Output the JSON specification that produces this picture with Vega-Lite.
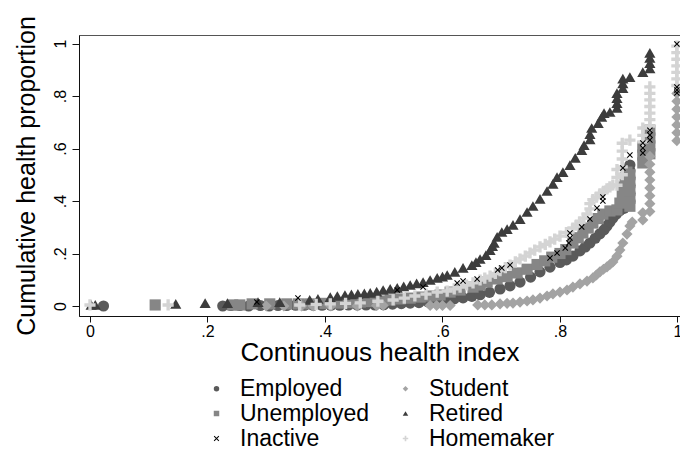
{
  "$schema": "https://vega.github.io/schema/vega-lite/v6.json",
  "width": 601,
  "height": 281,
  "autosize": "none",
  "padding": {"left": 79, "top": 35, "right": 0, "bottom": 143},
  "background": "white",
  "config": {
    "font": "Liberation Sans",
    "view": {"stroke": "#555555", "strokeWidth": 1},
    "axis": {
      "grid": false,
      "domainColor": "#111111",
      "tickColor": "#111111",
      "labelColor": "#000000",
      "titleColor": "#000000",
      "labelFont": "Liberation Sans",
      "titleFont": "Liberation Sans",
      "titleFontWeight": "normal",
      "labelFontSize": 16
    }
  },
  "datasets": {
    "pts": [
      {"g":"Employed","x":0.023,"y":0},{"g":"Employed","x":0.226,"y":0},{"g":"Employed","x":0.24,"y":0.002},{"g":"Employed","x":0.255,"y":0.002},{"g":"Employed","x":0.27,"y":0},{"g":"Employed","x":0.29,"y":0.002},{"g":"Employed","x":0.305,"y":0},{"g":"Employed","x":0.32,"y":0.002},{"g":"Employed","x":0.335,"y":0.002},{"g":"Employed","x":0.35,"y":0.003},{"g":"Employed","x":0.365,"y":0.003},{"g":"Employed","x":0.38,"y":0.003},{"g":"Employed","x":0.395,"y":0.003},{"g":"Employed","x":0.41,"y":0.003},{"g":"Employed","x":0.425,"y":0.003},{"g":"Employed","x":0.44,"y":0.004},{"g":"Employed","x":0.455,"y":0.004},{"g":"Employed","x":0.47,"y":0.004},{"g":"Employed","x":0.485,"y":0.004},{"g":"Employed","x":0.5,"y":0.005},{"g":"Employed","x":0.515,"y":0.007},{"g":"Employed","x":0.53,"y":0.009},{"g":"Employed","x":0.545,"y":0.011},{"g":"Employed","x":0.56,"y":0.013},{"g":"Employed","x":0.575,"y":0.016},{"g":"Employed","x":0.59,"y":0.019},{"g":"Employed","x":0.605,"y":0.023},{"g":"Employed","x":0.62,"y":0.027},{"g":"Employed","x":0.635,"y":0.031},{"g":"Employed","x":0.65,"y":0.037},{"g":"Employed","x":0.664,"y":0.043},{"g":"Employed","x":0.68,"y":0.052},{"g":"Employed","x":0.698,"y":0.065},{"g":"Employed","x":0.715,"y":0.077},{"g":"Employed","x":0.732,"y":0.091},{"g":"Employed","x":0.75,"y":0.11},{"g":"Employed","x":0.766,"y":0.13},{"g":"Employed","x":0.783,"y":0.148},{"g":"Employed","x":0.8,"y":0.166},{"g":"Employed","x":0.811,"y":0.176},{"g":"Employed","x":0.822,"y":0.19},{"g":"Employed","x":0.834,"y":0.21},{"g":"Employed","x":0.843,"y":0.225},{"g":"Employed","x":0.851,"y":0.24},{"g":"Employed","x":0.86,"y":0.258},{"g":"Employed","x":0.868,"y":0.275},{"g":"Employed","x":0.875,"y":0.29},{"g":"Employed","x":0.88,"y":0.305},{"g":"Employed","x":0.885,"y":0.32},{"g":"Employed","x":0.89,"y":0.335},{"g":"Employed","x":0.896,"y":0.35},{"g":"Employed","x":0.902,"y":0.364},{"g":"Employed","x":0.909,"y":0.372},{"g":"Employed","x":0.919,"y":0.4},{"g":"Employed","x":0.919,"y":0.43},{"g":"Employed","x":0.919,"y":0.46},{"g":"Employed","x":0.919,"y":0.49},{"g":"Employed","x":0.919,"y":0.515},{"g":"Employed","x":0.919,"y":0.537},

      {"g":"Unemployed","x":0.111,"y":0.004},{"g":"Unemployed","x":0.243,"y":0.004},{"g":"Unemployed","x":0.255,"y":0.004},{"g":"Unemployed","x":0.276,"y":0.008},{"g":"Unemployed","x":0.306,"y":0.008},{"g":"Unemployed","x":0.335,"y":0.008},{"g":"Unemployed","x":0.355,"y":0.008},{"g":"Unemployed","x":0.374,"y":0.008},{"g":"Unemployed","x":0.4,"y":0.01},{"g":"Unemployed","x":0.426,"y":0.011},{"g":"Unemployed","x":0.445,"y":0.013},{"g":"Unemployed","x":0.46,"y":0.015},{"g":"Unemployed","x":0.477,"y":0.017},{"g":"Unemployed","x":0.494,"y":0.019},{"g":"Unemployed","x":0.511,"y":0.023},{"g":"Unemployed","x":0.528,"y":0.027},{"g":"Unemployed","x":0.545,"y":0.03},{"g":"Unemployed","x":0.562,"y":0.034},{"g":"Unemployed","x":0.579,"y":0.038},{"g":"Unemployed","x":0.596,"y":0.042},{"g":"Unemployed","x":0.613,"y":0.053},{"g":"Unemployed","x":0.63,"y":0.061},{"g":"Unemployed","x":0.652,"y":0.072},{"g":"Unemployed","x":0.664,"y":0.08},{"g":"Unemployed","x":0.676,"y":0.091},{"g":"Unemployed","x":0.693,"y":0.103},{"g":"Unemployed","x":0.71,"y":0.112},{"g":"Unemployed","x":0.727,"y":0.126},{"g":"Unemployed","x":0.744,"y":0.14},{"g":"Unemployed","x":0.761,"y":0.158},{"g":"Unemployed","x":0.774,"y":0.172},{"g":"Unemployed","x":0.786,"y":0.186},{"g":"Unemployed","x":0.8,"y":0.2},{"g":"Unemployed","x":0.81,"y":0.215},{"g":"Unemployed","x":0.822,"y":0.24},{"g":"Unemployed","x":0.831,"y":0.26},{"g":"Unemployed","x":0.839,"y":0.278},{"g":"Unemployed","x":0.848,"y":0.297},{"g":"Unemployed","x":0.856,"y":0.316},{"g":"Unemployed","x":0.865,"y":0.333},{"g":"Unemployed","x":0.873,"y":0.35},{"g":"Unemployed","x":0.885,"y":0.362},{"g":"Unemployed","x":0.897,"y":0.366},{"g":"Unemployed","x":0.902,"y":0.392},{"g":"Unemployed","x":0.906,"y":0.423},{"g":"Unemployed","x":0.907,"y":0.453},{"g":"Unemployed","x":0.911,"y":0.488},{"g":"Unemployed","x":0.914,"y":0.51},{"g":"Unemployed","x":0.919,"y":0.38},{"g":"Unemployed","x":0.919,"y":0.41},{"g":"Unemployed","x":0.919,"y":0.44},{"g":"Unemployed","x":0.919,"y":0.47},{"g":"Unemployed","x":0.919,"y":0.5},{"g":"Unemployed","x":0.941,"y":0.545},{"g":"Unemployed","x":0.941,"y":0.575},{"g":"Unemployed","x":0.941,"y":0.605},{"g":"Unemployed","x":0.953,"y":0.58},{"g":"Unemployed","x":0.953,"y":0.61},{"g":"Unemployed","x":0.953,"y":0.64},{"g":"Unemployed","x":0.953,"y":0.67},

      {"g":"Student","x":0.3,"y":0},{"g":"Student","x":0.33,"y":0},{"g":"Student","x":0.36,"y":0},{"g":"Student","x":0.38,"y":0},{"g":"Student","x":0.41,"y":0},{"g":"Student","x":0.455,"y":0},{"g":"Student","x":0.488,"y":0.002},{"g":"Student","x":0.499,"y":0.002},{"g":"Student","x":0.579,"y":0.002},{"g":"Student","x":0.59,"y":0.002},{"g":"Student","x":0.6,"y":0.002},{"g":"Student","x":0.613,"y":0.002},{"g":"Student","x":0.66,"y":0.004},{"g":"Student","x":0.672,"y":0.004},{"g":"Student","x":0.684,"y":0.004},{"g":"Student","x":0.698,"y":0.008},{"g":"Student","x":0.71,"y":0.01},{"g":"Student","x":0.72,"y":0.011},{"g":"Student","x":0.732,"y":0.015},{"g":"Student","x":0.744,"y":0.019},{"g":"Student","x":0.754,"y":0.023},{"g":"Student","x":0.766,"y":0.03},{"g":"Student","x":0.778,"y":0.038},{"g":"Student","x":0.788,"y":0.046},{"g":"Student","x":0.8,"y":0.053},{"g":"Student","x":0.812,"y":0.061},{"g":"Student","x":0.822,"y":0.072},{"g":"Student","x":0.834,"y":0.084},{"g":"Student","x":0.846,"y":0.095},{"g":"Student","x":0.856,"y":0.107},{"g":"Student","x":0.862,"y":0.118},{"g":"Student","x":0.868,"y":0.13},{"g":"Student","x":0.874,"y":0.14},{"g":"Student","x":0.88,"y":0.149},{"g":"Student","x":0.885,"y":0.158},{"g":"Student","x":0.89,"y":0.168},{"g":"Student","x":0.897,"y":0.19},{"g":"Student","x":0.902,"y":0.213},{"g":"Student","x":0.907,"y":0.24},{"g":"Student","x":0.914,"y":0.274},{"g":"Student","x":0.919,"y":0.305},{"g":"Student","x":0.923,"y":0.32},{"g":"Student","x":0.941,"y":0.328},{"g":"Student","x":0.941,"y":0.355},{"g":"Student","x":0.953,"y":0.36},{"g":"Student","x":0.953,"y":0.39},{"g":"Student","x":0.953,"y":0.42},{"g":"Student","x":0.953,"y":0.45},{"g":"Student","x":0.953,"y":0.48},{"g":"Student","x":0.953,"y":0.51},{"g":"Student","x":0.953,"y":0.54},{"g":"Student","x":0.953,"y":0.57},{"g":"Student","x":0.999,"y":0.63},{"g":"Student","x":0.999,"y":0.66},{"g":"Student","x":0.999,"y":0.69},{"g":"Student","x":0.999,"y":0.72},{"g":"Student","x":0.999,"y":0.75},{"g":"Student","x":0.999,"y":0.78},{"g":"Student","x":0.999,"y":0.81},

      {"g":"Retired","x":0.002,"y":0.004},{"g":"Retired","x":0.009,"y":0.004},{"g":"Retired","x":0.146,"y":0.008},{"g":"Retired","x":0.196,"y":0.011},{"g":"Retired","x":0.234,"y":0.011},{"g":"Retired","x":0.286,"y":0.015},{"g":"Retired","x":0.323,"y":0.015},{"g":"Retired","x":0.374,"y":0.023},{"g":"Retired","x":0.388,"y":0.027},{"g":"Retired","x":0.409,"y":0.034},{"g":"Retired","x":0.421,"y":0.038},{"g":"Retired","x":0.434,"y":0.042},{"g":"Retired","x":0.445,"y":0.044},{"g":"Retired","x":0.456,"y":0.046},{"g":"Retired","x":0.467,"y":0.048},{"g":"Retired","x":0.477,"y":0.05},{"g":"Retired","x":0.488,"y":0.055},{"g":"Retired","x":0.499,"y":0.061},{"g":"Retired","x":0.511,"y":0.065},{"g":"Retired","x":0.523,"y":0.069},{"g":"Retired","x":0.534,"y":0.075},{"g":"Retired","x":0.545,"y":0.08},{"g":"Retired","x":0.556,"y":0.086},{"g":"Retired","x":0.567,"y":0.091},{"g":"Retired","x":0.579,"y":0.099},{"g":"Retired","x":0.591,"y":0.107},{"g":"Retired","x":0.6,"y":0.112},{"g":"Retired","x":0.608,"y":0.118},{"g":"Retired","x":0.621,"y":0.13},{"g":"Retired","x":0.635,"y":0.145},{"g":"Retired","x":0.65,"y":0.156},{"g":"Retired","x":0.657,"y":0.167},{"g":"Retired","x":0.664,"y":0.179},{"g":"Retired","x":0.674,"y":0.194},{"g":"Retired","x":0.681,"y":0.213},{"g":"Retired","x":0.685,"y":0.228},{"g":"Retired","x":0.688,"y":0.24},{"g":"Retired","x":0.693,"y":0.263},{"g":"Retired","x":0.701,"y":0.282},{"g":"Retired","x":0.71,"y":0.293},{"g":"Retired","x":0.72,"y":0.309},{"g":"Retired","x":0.732,"y":0.331},{"g":"Retired","x":0.744,"y":0.358},{"g":"Retired","x":0.754,"y":0.381},{"g":"Retired","x":0.766,"y":0.408},{"g":"Retired","x":0.778,"y":0.438},{"g":"Retired","x":0.788,"y":0.465},{"g":"Retired","x":0.795,"y":0.491},{"g":"Retired","x":0.805,"y":0.51},{"g":"Retired","x":0.817,"y":0.537},{"g":"Retired","x":0.826,"y":0.564},{"g":"Retired","x":0.837,"y":0.594},{"g":"Retired","x":0.841,"y":0.613},{"g":"Retired","x":0.851,"y":0.635},{"g":"Retired","x":0.851,"y":0.655},{"g":"Retired","x":0.854,"y":0.678},{"g":"Retired","x":0.865,"y":0.697},{"g":"Retired","x":0.871,"y":0.72},{"g":"Retired","x":0.875,"y":0.735},{"g":"Retired","x":0.885,"y":0.739},{"g":"Retired","x":0.897,"y":0.755},{"g":"Retired","x":0.897,"y":0.773},{"g":"Retired","x":0.897,"y":0.792},{"g":"Retired","x":0.897,"y":0.811},{"g":"Retired","x":0.907,"y":0.83},{"g":"Retired","x":0.907,"y":0.848},{"g":"Retired","x":0.907,"y":0.866},{"g":"Retired","x":0.919,"y":0.872},{"g":"Retired","x":0.941,"y":0.891},{"g":"Retired","x":0.953,"y":0.905},{"g":"Retired","x":0.953,"y":0.925},{"g":"Retired","x":0.953,"y":0.945},{"g":"Retired","x":0.953,"y":0.964},

      {"g":"Homemaker","x":0.0,"y":0.004},{"g":"Homemaker","x":0.133,"y":0.004},{"g":"Homemaker","x":0.357,"y":0.004},{"g":"Homemaker","x":0.385,"y":0.006},{"g":"Homemaker","x":0.409,"y":0.008},{"g":"Homemaker","x":0.435,"y":0.01},{"g":"Homemaker","x":0.46,"y":0.012},{"g":"Homemaker","x":0.49,"y":0.018},{"g":"Homemaker","x":0.516,"y":0.023},{"g":"Homemaker","x":0.535,"y":0.03},{"g":"Homemaker","x":0.553,"y":0.038},{"g":"Homemaker","x":0.572,"y":0.045},{"g":"Homemaker","x":0.591,"y":0.053},{"g":"Homemaker","x":0.608,"y":0.057},{"g":"Homemaker","x":0.62,"y":0.065},{"g":"Homemaker","x":0.63,"y":0.072},{"g":"Homemaker","x":0.641,"y":0.08},{"g":"Homemaker","x":0.652,"y":0.088},{"g":"Homemaker","x":0.664,"y":0.099},{"g":"Homemaker","x":0.672,"y":0.106},{"g":"Homemaker","x":0.681,"y":0.114},{"g":"Homemaker","x":0.69,"y":0.124},{"g":"Homemaker","x":0.698,"y":0.135},{"g":"Homemaker","x":0.707,"y":0.146},{"g":"Homemaker","x":0.715,"y":0.156},{"g":"Homemaker","x":0.724,"y":0.168},{"g":"Homemaker","x":0.732,"y":0.179},{"g":"Homemaker","x":0.741,"y":0.19},{"g":"Homemaker","x":0.749,"y":0.202},{"g":"Homemaker","x":0.757,"y":0.213},{"g":"Homemaker","x":0.766,"y":0.225},{"g":"Homemaker","x":0.775,"y":0.235},{"g":"Homemaker","x":0.783,"y":0.244},{"g":"Homemaker","x":0.791,"y":0.255},{"g":"Homemaker","x":0.8,"y":0.266},{"g":"Homemaker","x":0.811,"y":0.28},{"g":"Homemaker","x":0.822,"y":0.297},{"g":"Homemaker","x":0.828,"y":0.308},{"g":"Homemaker","x":0.834,"y":0.32},{"g":"Homemaker","x":0.84,"y":0.335},{"g":"Homemaker","x":0.846,"y":0.35},{"g":"Homemaker","x":0.851,"y":0.37},{"g":"Homemaker","x":0.851,"y":0.39},{"g":"Homemaker","x":0.856,"y":0.405},{"g":"Homemaker","x":0.862,"y":0.415},{"g":"Homemaker","x":0.868,"y":0.427},{"g":"Homemaker","x":0.874,"y":0.437},{"g":"Homemaker","x":0.88,"y":0.446},{"g":"Homemaker","x":0.885,"y":0.454},{"g":"Homemaker","x":0.89,"y":0.461},{"g":"Homemaker","x":0.897,"y":0.46},{"g":"Homemaker","x":0.897,"y":0.49},{"g":"Homemaker","x":0.897,"y":0.52},{"g":"Homemaker","x":0.906,"y":0.5},{"g":"Homemaker","x":0.906,"y":0.53},{"g":"Homemaker","x":0.906,"y":0.56},{"g":"Homemaker","x":0.906,"y":0.59},{"g":"Homemaker","x":0.906,"y":0.62},{"g":"Homemaker","x":0.919,"y":0.632},{"g":"Homemaker","x":0.941,"y":0.625},{"g":"Homemaker","x":0.941,"y":0.65},{"g":"Homemaker","x":0.941,"y":0.678},{"g":"Homemaker","x":0.953,"y":0.685},{"g":"Homemaker","x":0.953,"y":0.71},{"g":"Homemaker","x":0.953,"y":0.735},{"g":"Homemaker","x":0.953,"y":0.76},{"g":"Homemaker","x":0.953,"y":0.785},{"g":"Homemaker","x":0.953,"y":0.81},{"g":"Homemaker","x":0.953,"y":0.835},{"g":"Homemaker","x":0.999,"y":0.84},{"g":"Homemaker","x":0.999,"y":0.865},{"g":"Homemaker","x":0.999,"y":0.89},{"g":"Homemaker","x":0.999,"y":0.915},{"g":"Homemaker","x":0.999,"y":0.94},{"g":"Homemaker","x":0.999,"y":0.965},{"g":"Homemaker","x":0.999,"y":0.99},

      {"g":"Inactive","x":0.284,"y":0.015},{"g":"Inactive","x":0.354,"y":0.03},{"g":"Inactive","x":0.523,"y":0.061},{"g":"Inactive","x":0.567,"y":0.072},{"g":"Inactive","x":0.625,"y":0.088},{"g":"Inactive","x":0.635,"y":0.095},{"g":"Inactive","x":0.659,"y":0.103},{"g":"Inactive","x":0.694,"y":0.137},{"g":"Inactive","x":0.701,"y":0.145},{"g":"Inactive","x":0.715,"y":0.156},{"g":"Inactive","x":0.783,"y":0.183},{"g":"Inactive","x":0.795,"y":0.202},{"g":"Inactive","x":0.809,"y":0.221},{"g":"Inactive","x":0.815,"y":0.24},{"g":"Inactive","x":0.817,"y":0.259},{"g":"Inactive","x":0.817,"y":0.278},{"g":"Inactive","x":0.837,"y":0.301},{"g":"Inactive","x":0.851,"y":0.331},{"g":"Inactive","x":0.863,"y":0.373},{"g":"Inactive","x":0.873,"y":0.4},{"g":"Inactive","x":0.873,"y":0.415},{"g":"Inactive","x":0.907,"y":0.526},{"g":"Inactive","x":0.919,"y":0.575},{"g":"Inactive","x":0.941,"y":0.583},{"g":"Inactive","x":0.941,"y":0.602},{"g":"Inactive","x":0.941,"y":0.621},{"g":"Inactive","x":0.953,"y":0.632},{"g":"Inactive","x":0.953,"y":0.651},{"g":"Inactive","x":0.953,"y":0.67},{"g":"Inactive","x":0.999,"y":0.811},{"g":"Inactive","x":0.999,"y":0.823},{"g":"Inactive","x":0.999,"y":0.834},{"g":"Inactive","x":0.999,"y":0.998}
    ]
  },
  "data": {"name": "pts"},
  "mark": {"type": "point", "filled": true, "opacity": 1, "strokeWidth": 0},
  "encoding": {
    "x": {
      "field": "x", "type": "quantitative",
      "scale": {"domain": [-0.0187, 1.0043], "nice": false, "zero": false},
      "axis": {
        "values": [0, 0.2, 0.4, 0.6, 0.8, 1],
        "labelExpr": "datum.value == 0 ? '0' : datum.value == 1 ? '1' : '.' + round(datum.value * 10)",
        "tickSize": 6, "labelPadding": 1,
        "title": "Continuous health index", "titleFontSize": 26, "titlePadding": 0
      }
    },
    "y": {
      "field": "y", "type": "quantitative",
      "scale": {"domain": [-0.0381, 1.0324], "nice": false, "zero": false},
      "axis": {
        "values": [0, 0.2, 0.4, 0.6, 0.8, 1],
        "labelExpr": "datum.value == 0 ? '0' : datum.value == 1 ? '1' : '.' + round(datum.value * 10)",
        "labelAngle": 270, "labelAlign": "center", "labelBaseline": "middle",
        "tickSize": 7, "labelPadding": 12,
        "title": "Cumulative health proportion", "titleFontSize": 25, "titlePadding": 13
      }
    },
    "color": {
      "field": "g", "type": "nominal",
      "scale": {
        "domain": ["Employed", "Unemployed", "Inactive", "Student", "Retired", "Homemaker"],
        "range": ["#5a5a5a", "#868686", "#000000", "#a3a3a3", "#3c3c3c", "#d4d4d4"]
      },
      "legend": {
        "title": null, "orient": "none", "legendX": 126, "legendY": 342,
        "columns": 2, "labelFontSize": 23, "labelFont": "Liberation Sans", "labelColor": "#000000",
        "symbolSize": 30, "labelOffset": 12, "columnPadding": 24, "rowPadding": 1,
        "symbolStrokeWidth": 0, "symbolOpacity": 1,
        "encode": {"symbols": {"update": {"size": {"value": 30}}}}
      }
    },
    "shape": {
      "field": "g", "type": "nominal",
      "scale": {
        "domain": ["Employed", "Unemployed", "Inactive", "Student", "Retired", "Homemaker"],
        "range": ["circle", "square",
          "M-1,-0.75L-0.75,-1L0,-0.25L0.75,-1L1,-0.75L0.25,0L1,0.75L0.75,1L0,0.25L-0.75,1L-1,0.75L-0.25,0Z",
          "diamond", "triangle-up",
          "M-1,-0.3L-0.3,-0.3L-0.3,-1L0.3,-1L0.3,-0.3L1,-0.3L1,0.3L0.3,0.3L0.3,1L-0.3,1L-0.3,0.3L-1,0.3Z"]
      }
    },
    "size": {"condition": {"test": "datum.g === 'Inactive'", "value": 36}, "value": 125}
  }
}
